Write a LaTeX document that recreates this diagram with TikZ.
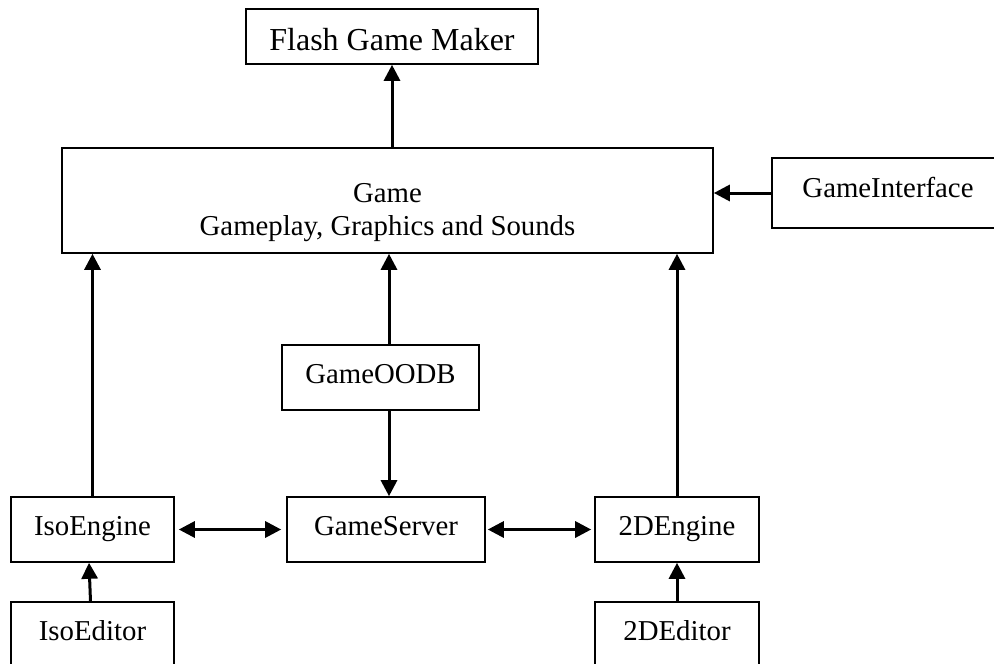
\documentclass[tikz,border=0pt]{standalone}
\usepackage{fontspec}
\setmainfont{Liberation Serif}
\usetikzlibrary{arrows.meta,calc,positioning}
\tikzstyle{block}=[draw,line width=1.6pt,inner sep=0pt,align=center,font=\fontsize{28.8}{33}\selectfont]
\tikzstyle{small}=[block,minimum height=65pt,text height=19pt,text depth=8pt]
\tikzstyle{link}=[line width=3pt,-{Triangle[length=16pt,width=16pt]}]
\tikzstyle{both}=[line width=3pt,{Triangle[length=16pt,width=16pt]}-{Triangle[length=16pt,width=16pt]}]
\newcommand{\drawlinks}[2][]{
	\foreach \a/\b in {#2}{
		\draw[link,#1] (\a) -- (\b);
	}
}
\begin{document}
\begin{tikzpicture}[x=1pt,y=-1pt]
\useasboundingbox (0,0) rectangle (994,664);
% top part
\node[block,minimum width=292pt,minimum height=55pt,font=\fontsize{32}{38}\selectfont,text height=27pt,text depth=0pt] (flash) at (392,36.5) {Flash Game Maker};
\node[block,minimum width=651pt,minimum height=105pt] (game) at (387.5,200.5) {\raisebox{-12pt}[\height][\depth]{\begin{tabular}{@{}c@{}}Game\\Gameplay, Graphics and Sounds\end{tabular}}};
\node[block,minimum width=232pt,minimum height=70pt,text height=19pt,text depth=11pt] (iface) at (888,193) {GameInterface};
\node[small,minimum width=197pt] (oodb) at (380.5,377.5) {GameOODB};

% engines and editors
\node[small,minimum width=163pt] (iso) at (92.5,529.5) {IsoEngine};
\node[small,minimum width=198pt] (server) at (386,529.5) {GameServer};
\node[small,minimum width=164pt] (twod) at (677,529.5) {2DEngine};
\node[small,minimum width=163pt] (isoed) at (92.5,634.5) {IsoEditor};
\node[small,minimum width=164pt] (twoded) at (677,634.5) {2DEditor};

\coordinate (oodbtop) at ($(oodb.north)+(8.5,0)$);
\coordinate (oodbbot) at ($(oodb.south)+(8.5,0)$);
\coordinate (isoedtop) at ($(isoed.north)+(-2,0)$);
\coordinate (isobot) at ($(iso.south)+(-3.5,0)$);

\drawlinks{flash.south |- game.north/flash.south,iface.west/iface.west -| game.east,iso.north/iso.north |- game.south,oodbtop/oodbtop |- game.south,twod.north/twod.north |- game.south,oodbbot/oodbbot |- server.north,isoedtop/isobot,twoded.north/twod.south}
\draw[both,shorten <=4pt,shorten >=5pt] (iso.east) -- (server.west);
\draw[both,shorten <=2pt,shorten >=3pt] (server.east) -- (twod.west);
\end{tikzpicture}
\end{document}
